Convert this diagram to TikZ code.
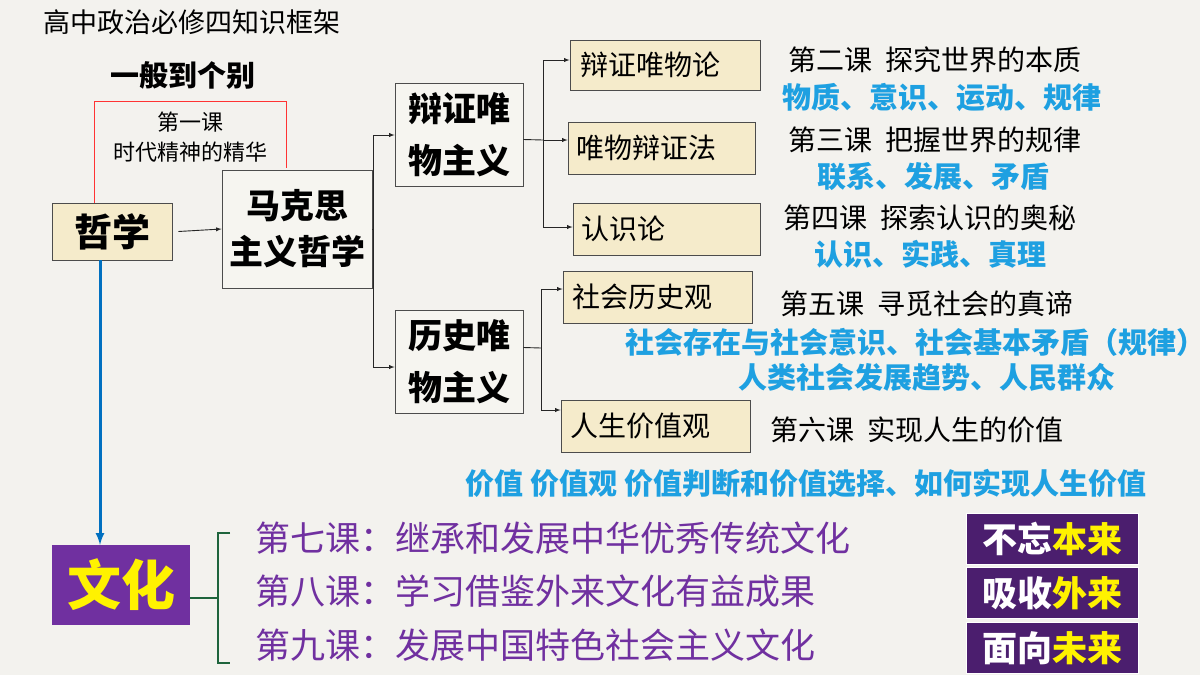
\documentclass[tikz,border=0pt]{standalone}
\usepackage{fontspec}
\setmainfont{Noto Sans CJK SC}
\definecolor{bg}{RGB}{243,242,238}
\definecolor{creamc}{RGB}{245,235,203}
\definecolor{wboxc}{RGB}{246,245,240}
\definecolor{bluet}{RGB}{30,160,225}
\definecolor{purt}{RGB}{112,48,160}
\definecolor{dpur}{RGB}{75,30,110}
\definecolor{arrb}{RGB}{0,112,192}
\definecolor{grn}{RGB}{30,100,60}
\begin{document}
\begin{tikzpicture}[x=1pt,y=-1pt,
  box/.style={draw=black!70,line width=0.8pt,inner sep=0pt},
  cream/.style={box,fill=creamc,align=left,text width=#1},
  wbox/.style={box,fill=wboxc},
  arr/.style={-latex,line width=0.9pt,black!85},
  ln/.style={line width=0.9pt,black!85},
  blue/.style={text=bluet,font=\bfseries\fontsize{29}{31}\selectfont},
  les/.style={font=\fontsize{28}{30}\selectfont},
  pur/.style={text=purt,font=\fontsize{35}{37}\selectfont,anchor=west},
  dbox/.style={fill=dpur,draw=white,line width=1pt,minimum width=172pt,minimum height=51pt,text=white,font=\bfseries\fontsize{35}{37}\selectfont}
]
\fill[bg] (0,0) rectangle (1200,675);
\useasboundingbox (0,0) rectangle (1200,675);
\node[anchor=west,font=\fontsize{27}{29}\selectfont] (title) at (40,22) {高中政治必修四知识框架};
\node[font=\bfseries\fontsize{29}{31}\selectfont] (gen) at (183,75) {一般到个别};
\draw[red!80,line width=0.8pt] (94,205) -- (94,101) -- (286,101) -- (286,168);
\node[font=\fontsize{22}{30}\selectfont,align=center] (l1) at (190,137) {第一课\\时代精神的精华};
\node[box,fill=creamc,minimum width=120pt,minimum height=57pt,font=\bfseries\fontsize{38}{40}\selectfont] (zx) at (112,231.5) {哲学};
\node[wbox,minimum width=150pt,minimum height=118pt,font=\bfseries\fontsize{34}{46}\selectfont,align=center] (mk) at (297,229) {马克思\\主义哲学};
\draw[arr] (zx.east)++(6,0) -- (mk.west);
\node[wbox,minimum width=128pt,minimum height=103pt,font=\bfseries\fontsize{34}{52}\selectfont,align=center] (bz) at (459,134.5) {辩证唯\\物主义};
\node[wbox,minimum width=128pt,minimum height=103pt,font=\bfseries\fontsize{34}{52}\selectfont,align=center] (ls) at (459,361.5) {历史唯\\物主义};
\coordinate (m1) at (373,135); \coordinate (m2) at (373,367);
\draw[ln] (mk.east) -- (373,229);
\draw[ln] (m1) -- (m2);
\draw[arr] (m1) -- (bz.west|-m1);
\draw[arr] (m2) -- (ls.west|-m2);
\node[cream=170pt,minimum width=190pt,minimum height=50pt,les] (b1) at (665,65) {辩证唯物论};
\node[cream=170pt,minimum width=187pt,minimum height=52pt,les] (b2) at (661.5,148) {唯物辩证法};
\node[cream=170pt,minimum width=187pt,minimum height=52pt,les] (b3) at (666.5,229) {认识论};
\draw[ln] (bz.east) ++(0,5) -- (543,140);
\draw[ln] (543,60) -- (543,227);
\draw[arr] (543,60) -- (b1.west|-0,60);
\draw[arr] (543,140) -- (b2.west|-0,140);
\draw[arr] (543,227) -- (b3.west|-0,227);
\node[cream=170pt,minimum width=189pt,minimum height=52pt,les] (c1) at (657.5,297) {社会历史观};
\node[cream=170pt,minimum width=189pt,minimum height=52pt,les] (c2) at (655.5,426) {人生价值观};
\draw[ln] (ls.east) ++(0,-14) -- (541,348);
\draw[ln] (541,289) -- (541,410);
\draw[arr] (541,289) -- (c1.west|-0,289);
\draw[arr] (541,410) -- (c2.west|-0,410);
\node[les] (t2) at (935,60) {第二课\ \ 探究世界的本质};
\node[blue] (k2) at (942,97) {物质、意识、运动、规律};
\node[les] (t3) at (935,140) {第三课\ \ 把握世界的规律};
\node[blue] (k3) at (933,177) {联系、发展、矛盾};
\node[les] (t4) at (930,218) {第四课\ \ 探索认识的奥秘};
\node[blue] (k4) at (930,254) {认识、实践、真理};
\node[les] (t5) at (927,304) {第五课\ \ 寻觅社会的真谛};
\node[blue,anchor=west] (k5) at (622,342) {社会存在与社会意识、社会基本矛盾（规律）};
\node[blue] (k5b) at (927,377) {人类社会发展趋势、人民群众};
\node[les] (t6) at (917,430) {第六课\ \ 实现人生的价值};
\node[blue] (k6) at (806,483) {价值 价值观 价值判断和价值选择、如何实现人生价值};
\node[fill=purt,minimum width=138pt,minimum height=80pt,text=yellow,font=\bfseries\fontsize{54}{56}\selectfont] (wh) at (121,585) {文化};
\draw[-latex,line width=3pt,draw=arrb] (zx.south-|100,0) -- (wh.north-|100,0);
\draw[line width=2.5pt,draw=grn] (wh.east|-0,598) -- (218,598) (230,533) -- (218,533) -- (218,663) -- (230,663);
\node[pur] (p7) at (252,538) {第七课：继承和发展中华优秀传统文化};
\node[pur] (p8) at (252,591) {第八课：学习借鉴外来文化有益成果};
\node[pur] (p9) at (252,645) {第九课：发展中国特色社会主义文化};
\node[dbox] (d1) at (1052,539) {不忘\textcolor{yellow}{本来}};
\node[dbox] (d2) at (1052,593) {吸收\textcolor{yellow}{外来}};
\node[dbox] (d3) at (1052,648) {面向\textcolor{yellow}{未来}};
\end{tikzpicture}
\end{document}
